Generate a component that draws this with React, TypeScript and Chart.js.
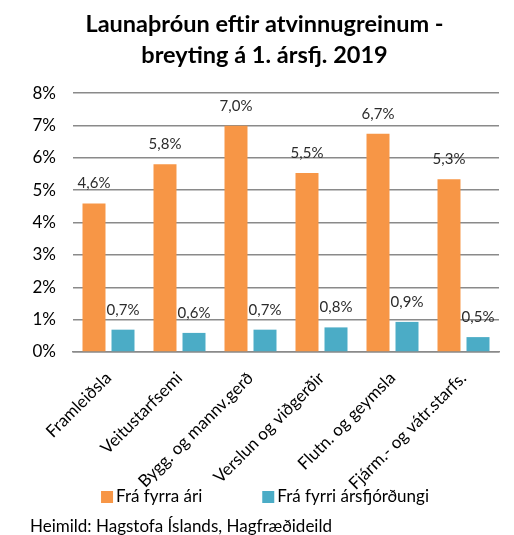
import React, { useEffect, useRef } from "react";
import { Chart, registerables } from "chart.js";

Chart.register(...registerables);

const titleLines = ["Launaþróun eftir atvinnugreinum -", "breyting á 1. ársfj. 2019"];
const sourceText = "Heimild: Hagstofa Íslands, Hagfræðideild";
const categories = [
  "Framleiðsla",
  "Veitustarfsemi",
  "Bygg. og mannv.gerð",
  "Verslun og viðgerðir",
  "Flutn. og geymsla",
  "Fjárm.- og vátr.starfs.",
];
const seriesNames = ["Frá fyrra ári", "Frá fyrri ársfjórðungi"];
const fromPrevYear = [4.59, 5.8, 6.99, 5.53, 6.74, 5.34];
const fromPrevQuarter = [0.69, 0.59, 0.69, 0.76, 0.93, 0.46];
const prevYearLabels = ["4,6%", "5,8%", "7,0%", "5,5%", "6,7%", "5,3%"];
const prevQuarterLabels = ["0,7%", "0,6%", "0,7%", "0,8%", "0,9%", "0,5%"];
const yMin = 0;
const yMax = 8;
const yStep = 1;

const FONT = "Lato, 'Open Sans', sans-serif";
const ORANGE = "#F79646";
const BLUE = "#4BACC6";
const GRID = "#8a8a8a";

const valueLabelsPlugin = {
  id: "valueLabels",
  afterDatasetsDraw(chart: any) {
    const ctx = chart.ctx;
    ctx.save();
    ctx.font = `15px ${FONT}`;
    ctx.fillStyle = "#2b2b2b";
    ctx.textAlign = "center";
    ctx.textBaseline = "middle";
    chart.data.datasets.forEach((ds: any, di: number) => {
      const meta = chart.getDatasetMeta(di);
      meta.data.forEach((el: any, i: number) => {
        ctx.fillText(ds.valueLabels[i], el.x, el.y - 20);
      });
    });
    ctx.restore();
  },
};

const legendPlugin = {
  id: "customLegend",
  afterDraw(chart: any) {
    const ctx = chart.ctx;
    ctx.save();
    ctx.font = `17px ${FONT}`;
    ctx.textBaseline = "middle";
    ctx.textAlign = "left";
    const box = 12;
    const gap = 3;
    const between = 60;
    const items = chart.data.datasets.map((ds: any) => ({
      text: ds.label,
      color: ds.backgroundColor,
      w: box + gap + ctx.measureText(ds.label).width,
    }));
    const total = items.reduce((s: number, it: any) => s + it.w, 0) + between * (items.length - 1);
    let x = chart.width / 2 + 8 - total / 2;
    const y = chart.height - 38;
    items.forEach((it: any) => {
      ctx.fillStyle = it.color;
      ctx.fillRect(x, y - box / 2, box, box);
      ctx.fillStyle = "#000000";
      ctx.fillText(it.text, x + box + gap, y);
      x += it.w + between;
    });
    ctx.restore();
  },
};

export default function App() {
  const canvasRef = useRef<HTMLCanvasElement | null>(null);

  useEffect(() => {
    if (!canvasRef.current) return;
    const chart = new Chart(canvasRef.current, {
      type: "bar",
      data: {
        labels: categories,
        datasets: [
          {
            label: seriesNames[0],
            data: fromPrevYear,
            backgroundColor: ORANGE,
            valueLabels: prevYearLabels,
          } as any,
          {
            label: seriesNames[1],
            data: fromPrevQuarter,
            backgroundColor: BLUE,
            valueLabels: prevQuarterLabels,
          } as any,
        ],
      },
      options: {
        animation: false,
        responsive: false,
        maintainAspectRatio: false,
        layout: { padding: { left: 30, right: 15, top: 0, bottom: 0 } },
        datasets: {
          bar: { categoryPercentage: 0.817, barPercentage: 0.793 },
        },
        plugins: {
          legend: { display: false },
          tooltip: { enabled: false },
          title: {
            display: true,
            text: titleLines,
            color: "#000000",
            font: { family: FONT, size: 23.5, weight: "bold", lineHeight: 1.32 },
            padding: { top: 8.5, bottom: 22.5 },
          },
          subtitle: {
            display: true,
            position: "bottom",
            align: "start",
            text: sourceText,
            color: "#000000",
            font: { family: FONT, size: 17, lineHeight: 1.0 },
            padding: { top: 28, bottom: 0 },
          },
        },
        scales: {
          x: {
            grid: { display: false },
            border: { display: true, color: GRID, width: 1.5 },
            ticks: {
              color: "#000000",
              font: { family: FONT, size: 17 },
              minRotation: 45,
              maxRotation: 45,
              padding: 8,
            },
            afterFit(scale: any) {
              scale.height = 138;
            },
          },
          y: {
            min: yMin,
            max: yMax,
            border: { display: false },
            grid: { color: GRID, lineWidth: 1.5, drawTicks: false },
            ticks: {
              stepSize: yStep,
              color: "#000000",
              font: { family: FONT, size: 17 },
              padding: 17,
              callback: (v: any) => `${v}%`,
            },
            afterFit(scale: any) {
              scale.width = 43;
            },
          },
        },
      },
      plugins: [valueLabelsPlugin, legendPlugin],
    } as any);
    return () => chart.destroy();
  }, []);

  return (
    <div style={{ position: "absolute", left: 0, top: 0, width: 514, height: 535, background: "#ffffff" }}>
      <canvas ref={canvasRef} width={514} height={535} style={{ width: 514, height: 535 }} />
    </div>
  );
}
